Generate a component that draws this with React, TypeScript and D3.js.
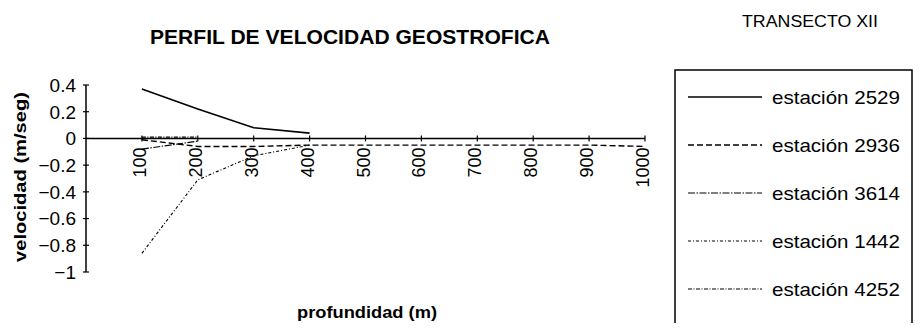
import React, { useEffect, useRef } from 'react';
import * as d3 from 'd3';

// profundidad (m)
const depths = [100, 200, 300, 400, 500, 600, 700, 800, 900, 1000];
// velocidad (m/seg) por estación
const est2529 = [0.37, 0.22, 0.08, 0.04];
const est2936 = [-0.01, -0.06, -0.06, -0.05, -0.05, -0.05, -0.05, -0.05, -0.05, -0.06];
const est3614 = [-0.08, -0.02];
const est1442 = [-0.86, -0.31, -0.13, -0.05];
const est4252 = [0.01, 0.01];
const yTicks = [0.4, 0.2, 0, -0.2, -0.4, -0.6, -0.8, -1];
const legendNames = ['estación 2529', 'estación 2936', 'estación 3614', 'estación 1442', 'estación 4252'];
const dashes = ['none', '6 3', '7 1.5 1.5 1.5', '3 2 1 2', '4 1.5 1 1.5'];
const widths = [1.6, 1.4, 1.1, 1.1, 1.1];

const font = '"Liberation Sans", Arial, sans-serif';

export default function App() {
  const ref = useRef<SVGSVGElement>(null);

  useEffect(() => {
    const svg = d3.select(ref.current);
    svg.selectAll('*').remove();

    const x = d3.scaleLinear().domain([0, 1000]).range([86, 645]);
    const y = d3.scaleLinear().domain([-1, 0.4]).range([272, 85]);

    // titles
    svg.append('text').attr('x', 150).attr('y', 44)
      .attr('font-family', font).attr('font-weight', 'bold').attr('font-size', 21)
      .attr('textLength', 400).attr('lengthAdjust', 'spacingAndGlyphs')
      .text('PERFIL DE VELOCIDAD GEOSTROFICA');
    svg.append('text').attr('x', 742).attr('y', 27)
      .attr('font-family', font).attr('font-size', 16)
      .attr('textLength', 136).attr('lengthAdjust', 'spacingAndGlyphs')
      .text('TRANSECTO XII');

    // y axis
    svg.append('line').attr('x1', x(0)).attr('x2', x(0)).attr('y1', y(0.4)).attr('y2', y(-1))
      .attr('stroke', '#000').attr('stroke-width', 1.5);
    const yt = svg.append('g').selectAll('g').data(yTicks).enter().append('g');
    yt.append('line').attr('x1', x(0) - 3).attr('x2', x(0) + 3)
      .attr('y1', d => y(d)).attr('y2', d => y(d)).attr('stroke', '#000').attr('stroke-width', 1.2);
    yt.append('text').attr('x', 76).attr('y', d => y(d)).attr('dy', '0.36em')
      .attr('text-anchor', 'end').attr('font-family', font).attr('font-size', 19)
      .text(d => d3.format('~g')(d));

    svg.append('text')
      .attr('transform', `translate(26,177) rotate(-90)`)
      .attr('text-anchor', 'middle').attr('font-family', font).attr('font-weight', 'bold')
      .attr('font-size', 17).attr('textLength', 170).attr('lengthAdjust', 'spacingAndGlyphs')
      .text('velocidad (m/seg)');

    // x axis
    svg.append('line').attr('x1', x(0)).attr('x2', x(1000)).attr('y1', y(0)).attr('y2', y(0))
      .attr('stroke', '#000').attr('stroke-width', 1.5);
    const xt = svg.append('g').selectAll('g').data(depths).enter().append('g');
    xt.append('line').attr('x1', d => x(d)).attr('x2', d => x(d))
      .attr('y1', y(0) - 3).attr('y2', y(0) + 3).attr('stroke', '#000').attr('stroke-width', 1.2);
    xt.append('text')
      .attr('transform', d => `translate(${x(d) + 4},${y(0) + 9}) rotate(-90)`)
      .attr('text-anchor', 'end').attr('font-family', font).attr('font-size', 18)
      .text(d => String(d));

    svg.append('text').attr('x', 367).attr('y', 318).attr('text-anchor', 'middle')
      .attr('font-family', font).attr('font-weight', 'bold').attr('font-size', 16)
      .attr('textLength', 140).attr('lengthAdjust', 'spacingAndGlyphs')
      .text('profundidad (m)');

    // series
    const series = [est2529, est2936, est3614, est1442, est4252];
    const line = d3.line<number>().x((_, i) => x(depths[i])).y(d => y(d));
    series.forEach((s, i) => {
      svg.append('path').attr('d', line(s) as string)
        .attr('fill', 'none').attr('stroke', '#000')
        .attr('stroke-width', widths[i])
        .attr('stroke-dasharray', dashes[i]);
    });

    // legend
    svg.append('rect').attr('x', 675).attr('y', 70).attr('width', 237).attr('height', 257)
      .attr('fill', 'none').attr('stroke', '#000').attr('stroke-width', 1.5);
    const rowY = d3.scalePoint<string>().domain(legendNames).range([97, 289]);
    const lg = svg.append('g').selectAll('g').data(legendNames).enter().append('g')
      .attr('transform', d => `translate(0,${rowY(d)})`);
    lg.append('line').attr('x1', 688).attr('x2', 762).attr('y1', 0).attr('y2', 0)
      .attr('stroke', '#000').attr('stroke-width', (_, i) => widths[i])
      .attr('stroke-dasharray', (_, i) => dashes[i]);
    lg.append('text').attr('x', 772).attr('y', 0).attr('dy', '0.36em')
      .attr('font-family', font).attr('font-size', 19)
      .attr('textLength', 128).attr('lengthAdjust', 'spacingAndGlyphs')
      .text(d => d);
  }, []);

  return (
    <div>
      <svg ref={ref} width={921} height={331} style={{ display: 'block', margin: '-8px' }} />
    </div>
  );
}
